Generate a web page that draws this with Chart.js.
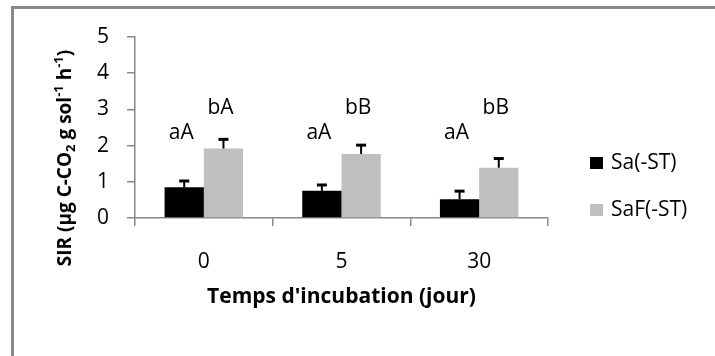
<!DOCTYPE html>
<html>
<head>
<meta charset="utf-8">
<script src="https://cdn.jsdelivr.net/npm/chart.js@4"></script>
<style>
    html, body { margin: 0; padding: 0; background: #fff; }
    #wrap { width: 715px; height: 356px; }
</style>
</head>
<body>
<div id="wrap"><canvas id="graficoSIR" width="715" height="356"></canvas></div>
<script>
// données
const jours = ["0", "5", "30"];
const nomsSeries = ["Sa(-ST)", "SaF(-ST)"];
const sirSa = [0.85, 0.75, 0.52];
const sirSaF = [1.92, 1.77, 1.39];
const erreurSa = [0.20, 0.19, 0.25];
const erreurSaF = [0.28, 0.27, 0.28];
const lettresSa = ["aA", "aA", "aA"];
const lettresSaF = ["bA", "bB", "bB"];
const ticksY = [0, 1, 2, 3, 4, 5];

const POLICE = "'Open Sans', 'DejaVu Sans', sans-serif";

// cadre gris autour du graphique
const cadrePlugin = {
    id: "cadre",
    beforeDraw(chart) {
        const ctx = chart.ctx;
        ctx.save();
        ctx.strokeStyle = "#888888";
        ctx.lineWidth = 3;
        ctx.beginPath();
        ctx.moveTo(12.5, 360);
        ctx.lineTo(12.5, 7.5);
        ctx.lineTo(720, 7.5);
        ctx.stroke();
        ctx.restore();
    }
};

// barres d'erreur (vers le haut seulement) et lettres de signification
const erreursPlugin = {
    id: "erreurs",
    afterDatasetsDraw(chart) {
        const ctx = chart.ctx;
        const y = chart.scales.y;
        ctx.save();
        chart.data.datasets.forEach((ds, i) => {
            const meta = chart.getDatasetMeta(i);
            meta.data.forEach((bar, j) => {
                const haut = y.getPixelForValue(ds.data[j] + ds.erreurs[j]);
                ctx.strokeStyle = "#000";
                ctx.lineWidth = 2;
                ctx.beginPath();
                ctx.moveTo(bar.x, bar.y);
                ctx.lineTo(bar.x, haut);
                ctx.stroke();
                ctx.lineWidth = 3;
                ctx.beginPath();
                ctx.moveTo(bar.x - 5, haut + 1);
                ctx.lineTo(bar.x + 5, haut + 1);
                ctx.stroke();

                ctx.fillStyle = "#000";
                ctx.font = "21px " + POLICE;
                ctx.textAlign = "center";
                ctx.textBaseline = "middle";
                const niveau = i === 0 ? 2.35 : 3.05;
                ctx.fillText(ds.lettres[j], bar.x - 3, y.getPixelForValue(niveau));
            });
        });
        ctx.restore();
    }
};

// titres des axes et légende
const textesPlugin = {
    id: "textes",
    afterDraw(chart) {
        const ctx = chart.ctx;
        const area = chart.chartArea;
        ctx.save();
        ctx.fillStyle = "#000";

        // titre axe x
        ctx.font = "bold 21px " + POLICE;
        ctx.textAlign = "center";
        ctx.textBaseline = "middle";
        ctx.fillText("Temps d'incubation (jour)", (area.left + area.right) / 2, 297);

        // titre axe y avec indices / exposants
        const morceaux = [
            { t: "SIR (µg C-CO", s: 0 },
            { t: "2", s: 1 },
            { t: " g sol", s: 0 },
            { t: "-1", s: -1 },
            { t: " h", s: 0 },
            { t: "-1", s: -1 },
            { t: ")", s: 0 }
        ];
        const fNormal = "bold 19px " + POLICE;
        const fPetit = "bold 13px " + POLICE;
        let total = 0;
        morceaux.forEach(m => {
            ctx.font = m.s === 0 ? fNormal : fPetit;
            m.w = ctx.measureText(m.t).width;
            total += m.w;
        });
        ctx.translate(64, 158);
        ctx.rotate(-Math.PI / 2);
        ctx.textAlign = "left";
        ctx.textBaseline = "alphabetic";
        let x = -total / 2;
        morceaux.forEach(m => {
            ctx.font = m.s === 0 ? fNormal : fPetit;
            const dy = m.s === 1 ? 4 : (m.s === -1 ? -8 : 0);
            ctx.fillText(m.t, x, 7 + dy);
            x += m.w;
        });
        ctx.setTransform(1, 0, 0, 1, 0, 0);

        // légende
        const lignes = [163, 210];
        ctx.font = "21px " + POLICE;
        ctx.textBaseline = "middle";
        ctx.textAlign = "left";
        chart.data.datasets.forEach((ds, i) => {
            ctx.fillStyle = ds.backgroundColor;
            ctx.fillRect(590, lignes[i] - 6, 13, 12);
            ctx.fillStyle = "#000";
            ctx.fillText(ds.label, 611, lignes[i]);
        });
        ctx.restore();
    }
};

const ctx = document.getElementById("graficoSIR").getContext("2d");

new Chart(ctx, {
    type: "bar",
    data: {
        labels: jours,
        datasets: [
            {
                label: nomsSeries[0],
                data: sirSa,
                erreurs: erreurSa,
                lettres: lettresSa,
                backgroundColor: "#000000",
                borderWidth: 0
            },
            {
                label: nomsSeries[1],
                data: sirSaF,
                erreurs: erreurSaF,
                lettres: lettresSaF,
                backgroundColor: "#BFBFBF",
                borderWidth: 0
            }
        ]
    },
    options: {
        responsive: false,
        animation: false,
        devicePixelRatio: 1,
        layout: {
            padding: { top: 37, right: 167, bottom: 0, left: 0 }
        },
        datasets: {
            bar: { categoryPercentage: 0.57, barPercentage: 1.0 }
        },
        plugins: {
            legend: { display: false },
            tooltip: { enabled: false }
        },
        scales: {
            x: {
                grid: {
                    offset: true,
                    drawOnChartArea: false,
                    tickLength: 8,
                    color: "#888888",
                    lineWidth: 1.5
                },
                border: { color: "#888888", width: 1.5 },
                ticks: {
                    color: "#000",
                    padding: 23,
                    font: { family: POLICE, size: 21 }
                },
                afterFit(scale) { scale.height = 138; }
            },
            y: {
                min: 0,
                max: 5,
                afterBuildTicks(scale) {
                    scale.ticks = ticksY.map(v => ({ value: v }));
                },
                grid: {
                    drawOnChartArea: false,
                    tickLength: 8,
                    color: "#888888",
                    lineWidth: 1.5
                },
                border: { color: "#888888", width: 1.5 },
                ticks: {
                    color: "#000",
                    padding: 18,
                    font: { family: POLICE, size: 21 }
                },
                afterFit(scale) { scale.width = 135; }
            }
        }
    },
    plugins: [cadrePlugin, erreursPlugin, textesPlugin]
});
</script>
</body>
</html>
